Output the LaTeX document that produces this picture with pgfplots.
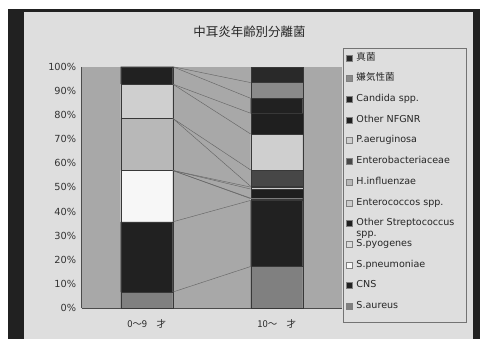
\documentclass[border=0pt]{standalone}
\usepackage{pgfplots}
\pgfplotsset{compat=1.18}
\usepackage{fontspec}
\setmainfont{DejaVu Sans}
\newfontfamily\jp{Noto Sans CJK JP}

\definecolor{panel}{gray}{0.87}
\definecolor{plotbg}{gray}{0.66}
\definecolor{frame}{gray}{0.13}
\definecolor{saureus}{gray}{0.50}
\definecolor{cns}{gray}{0.13}
\definecolor{spneu}{gray}{0.97}
\definecolor{spyo}{gray}{0.86}
\definecolor{ostrep}{gray}{0.12}
\definecolor{entero}{gray}{0.80}
\definecolor{hinfl}{gray}{0.72}
\definecolor{enterob}{gray}{0.28}
\definecolor{paer}{gray}{0.81}
\definecolor{onfgnr}{gray}{0.12}
\definecolor{candida}{gray}{0.13}
\definecolor{anaer}{gray}{0.54}
\definecolor{fungi}{gray}{0.16}

\pgfplotsset{
  panelaxis/.style={
    at={(81.7bp,31bp)}, anchor=south west,
    scale only axis, width=260bp, height=241.3bp,
    xmin=-0.5, xmax=1.5, ymin=0, ymax=100,
  },
  seg/.style={fill=#1, draw=black!78, line width=0.35pt},
  sline/.style={draw=black!60, line width=0.45pt, mark=none},
}

\begin{document}
\begin{tikzpicture}[x=1bp,y=1bp]
  % slide background and dark frame
  \fill[white] (0,0) rectangle (480,339);
  \fill[frame] (8,0) rectangle (480,330);
  \fill[panel] (24,0) rectangle (473,327);
  % chart title
  \node[font=\jp\fontsize{12.5}{14}\selectfont, text=black!85] at (249.5,307.5) {中耳炎年齢別分離菌};
  % legend frame
  \draw[black!55, fill=panel, line width=0.5pt] (343,290.7) rectangle (466,16.5);

  \begin{axis}[panelaxis,
    ybar stacked, bar width=0.4,
    axis background/.style={fill=plotbg},
    axis x line*=bottom, axis y line*=left,
    axis line style={black!70, line width=0.5pt},
    xtick={0,1},
    xticklabels={{\jp 0～9\quad 才},{\jp 10～\quad 才}},
    xtick style={draw=none},
    xticklabel style={font=\fontsize{9.5}{10}\selectfont, text=black!85, yshift=-8bp},
    extra x ticks={0.5}, extra x tick labels={},
    extra x tick style={tick align=outside, major tick length=3bp, tick style={draw=black!70}},
    ytick={0,10,...,100},
    ytick style={draw=none},
    yticklabel={\pgfmathprintnumber{\tick}\%},
    /pgf/number format/assume math mode=true,
    yticklabel style={font=\fontsize{9.8}{10}\selectfont, text=black!80, xshift=-2bp},
    reverse legend,
    legend image code/.code={\fill[#1, draw=black!50, line width=0.3pt] (0bp,-3bp) rectangle (6bp,3bp);},
    legend style={at={(1.0165,1.056)}, anchor=north west,
      draw=none, fill=none, inner sep=0pt,
      font=\fontsize{9.6}{10.5}\selectfont, text=black!85,
      nodes={inner sep=0pt, text height=6.8bp, text depth=2bp},
      row sep=11.9bp, column sep=4bp},
    legend cell align=left,
  ]
    % shares (%) for 0-9 and 10- year groups, bottom segment first
    \addplot[seg=saureus] coordinates {(0,6.6) (1,17.2)};
    \addlegendentry{S.aureus}
    \addplot[seg=cns] coordinates {(0,29.1) (1,27.4)};
    \addlegendentry{CNS}
    \addplot[seg=spneu] coordinates {(0,21.3) (1,0.7)};
    \addlegendentry{S.pneumoniae}
    \addplot[seg=spyo] coordinates {(0,0) (1,0.2)};
    \addlegendentry{S.pyogenes}
    \addplot[seg=ostrep] coordinates {(0,0) (1,3.8)};
    \addlegendentry{\smash{\begin{tabular}[t]{@{}l@{}}Other Streptococcus\\[0pt]spp.\end{tabular}}}
    \addplot[seg=entero] coordinates {(0,0) (1,0.8)};
    \addlegendentry{Enterococcos spp.}
    \addplot[seg=hinfl] coordinates {(0,21.6) (1,0.3)};
    \addlegendentry{H.influenzae}
    \addplot[seg=enterob] coordinates {(0,0) (1,6.8)};
    \addlegendentry{Enterobacteriaceae}
    \addplot[seg=paer] coordinates {(0,14.2) (1,14.9)};
    \addlegendentry{P.aeruginosa}
    \addplot[seg=onfgnr] coordinates {(0,0) (1,8.6)};
    \addlegendentry{Other NFGNR}
    \addplot[seg=candida] coordinates {(0,7.2) (1,6.2)};
    \addlegendentry{Candida spp.}
    \addplot[seg=anaer] coordinates {(0,0) (1,6.5)};
    \addlegendentry{{\jp 嫌気性菌}}
    \addplot[seg=fungi] coordinates {(0,0) (1,6.6)};
    \addlegendentry{{\jp 真菌}}
  \end{axis}

  % series lines joining the top of each segment across the two columns
  \begin{axis}[panelaxis, hide axis]
    \addplot[sline] coordinates {(0.2,6.6)  (0.8,17.2)};
    \addplot[sline] coordinates {(0.2,35.7) (0.8,44.6)};
    \addplot[sline] coordinates {(0.2,57.0) (0.8,45.3)};
    \addplot[sline] coordinates {(0.2,57.0) (0.8,45.5)};
    \addplot[sline] coordinates {(0.2,57.0) (0.8,49.3)};
    \addplot[sline] coordinates {(0.2,57.0) (0.8,50.1)};
    \addplot[sline] coordinates {(0.2,78.6) (0.8,50.4)};
    \addplot[sline] coordinates {(0.2,78.6) (0.8,57.2)};
    \addplot[sline] coordinates {(0.2,92.8) (0.8,72.1)};
    \addplot[sline] coordinates {(0.2,92.8) (0.8,80.7)};
    \addplot[sline] coordinates {(0.2,100)  (0.8,86.9)};
    \addplot[sline] coordinates {(0.2,100)  (0.8,93.4)};
  \end{axis}
\end{tikzpicture}
\end{document}
